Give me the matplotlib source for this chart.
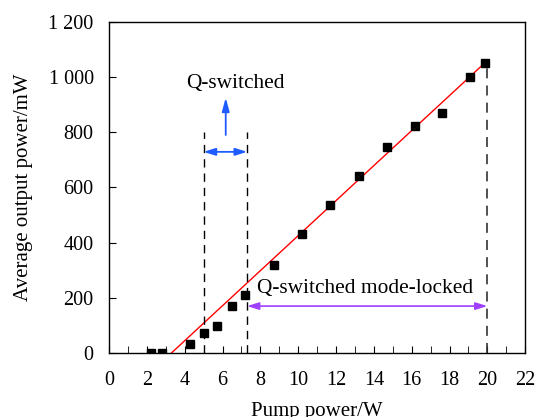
import matplotlib
matplotlib.use("Agg")
import matplotlib.pyplot as plt
from matplotlib.ticker import MultipleLocator

plt.rcParams['font.family'] = ['Liberation Serif', 'DejaVu Serif']

pump = [2.2, 2.8, 4.3, 5.0, 5.7, 6.5, 7.2, 8.7, 10.2, 11.7, 13.2, 14.7, 16.2, 17.6, 19.1, 19.9]
power = [0, 0, 33, 73, 98, 170, 210, 318, 432, 537, 640, 745, 823, 868, 1000, 1052]
fit_x = [3.3, 20.0]
fit_y = [0, 1060]
xticks = list(range(0, 23, 2))
yticks = [0, 200, 400, 600, 800, 1000, 1200]
ytick_labels = ['0', '200', '400', '600', '800', '1 000', '1 200']

fig = plt.figure(figsize=(5.37, 4.17), dpi=100)
ax = fig.add_axes([0.203, 0.1535, 0.775, 0.794])

ax.plot(fit_x, fit_y, color='red', lw=1.0, zorder=2)
ax.plot(pump, power, 's', color='black', ms=5.8, zorder=3)

dash = (0, (6, 4.3))
ax.plot([5.0, 5.0], [0, 800], ls=dash, color='black', lw=1.0)
ax.plot([7.3, 7.3], [0, 800], ls=dash, color='black', lw=1.0)
ax.plot([20.0, 20.0], [0, 1050], ls=dash, color='#333333', lw=1.2)

blue = '#1f5cff'
purple = '#a040ff'
style2 = '<|-|>,head_length=0.7,head_width=0.22'
style1 = '-|>,head_length=0.8,head_width=0.22'
ax.annotate('', xy=(5.0, 729), xytext=(7.3, 729),
            arrowprops=dict(arrowstyle=style2, color=blue, lw=1.3,
                            mutation_scale=10, shrinkA=0, shrinkB=0))
ax.annotate('', xy=(6.17, 925), xytext=(6.17, 790),
            arrowprops=dict(arrowstyle=style1, color=blue, lw=1.3,
                            mutation_scale=10, shrinkA=0, shrinkB=0))
ax.text(6.67, 978, 'Q-switched', ha='center', va='center', fontsize=15.4)

ax.annotate('', xy=(7.3, 170), xytext=(20.0, 170),
            arrowprops=dict(arrowstyle=style2, color=purple, lw=1.2,
                            mutation_scale=10, shrinkA=0, shrinkB=0))
ax.text(13.55, 232, 'Q-switched mode-locked', ha='center', va='center', fontsize=15.4)

ax.set_xlim(0, 22)
ax.set_ylim(0, 1200)
ax.set_xticks(xticks)
ax.xaxis.set_minor_locator(MultipleLocator(1))
ax.set_yticks(yticks)
ax.set_yticklabels(ytick_labels)
ax.tick_params(axis='both', which='both', direction='in', length=5, labelsize=14.5)
ax.tick_params(axis='x', which='major', pad=13)
ax.tick_params(axis='y', which='major', pad=11)
ax.set_xlabel('Pump power/W', fontsize=15, labelpad=8.5)
ax.set_ylabel('Average output power/mW', fontsize=15, labelpad=11)
for s in ax.spines.values():
    s.set_linewidth(1.0)

fig.savefig('out.png', dpi=100)
